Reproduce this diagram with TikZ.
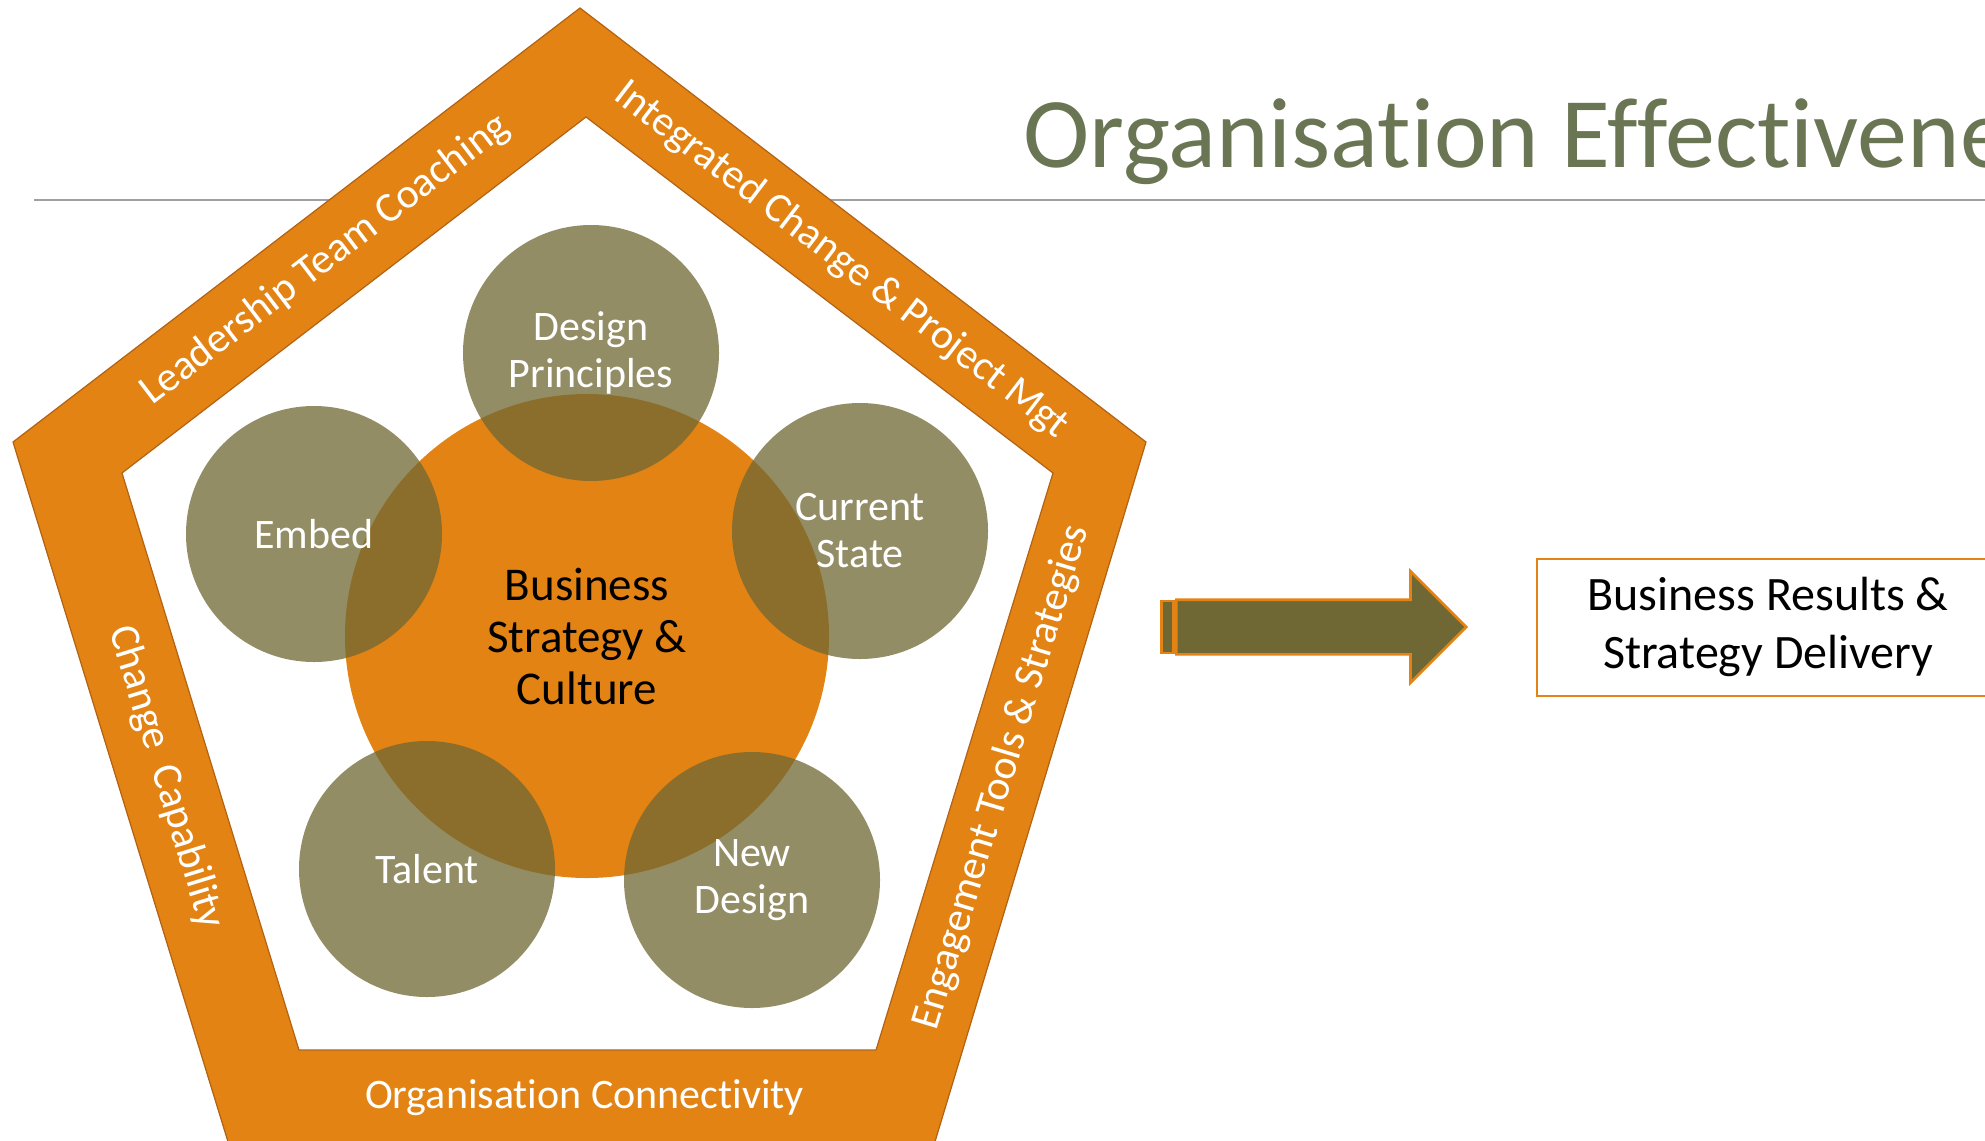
\documentclass[tikz,border=0pt]{standalone}
\usepackage{fontspec}
\setmainfont{Carlito}[Ligatures=NoCommon]
\usepackage{tikz}
\usetikzlibrary{shapes.arrows, positioning, calc}
\definecolor{rimOrange}{RGB}{226,131,19}
\definecolor{rimEdge}{RGB}{178,98,18}
\definecolor{petalOlive}{RGB}{111,104,52}
\definecolor{titleGreen}{RGB}{106,117,83}
\definecolor{ruleGray}{RGB}{160,160,160}

\begin{document}
\begin{tikzpicture}[
    x=0.5pt, y=-0.5pt,
    frame/.style={fill=rimOrange, draw=rimEdge, line width=0.6pt},
    hole/.style={fill=white, draw=rimEdge, line width=0.6pt},
    rim/.style={text=white, font=\fontsize{21}{25}\selectfont},
    core/.style={circle, fill=rimOrange, minimum size=242pt, inner sep=0pt, align=center, font=\fontsize{23.5}{26}\selectfont},
    petal/.style={circle, fill=petalOlive, fill opacity=0.75, text opacity=1, text=white, minimum size=128pt, inner sep=0pt, align=center, font=\fontsize{21}{23.5}\selectfont},
    arrowbody/.style={single arrow, fill=petalOlive, draw=rimOrange, line width=1.3pt, minimum height=145pt, inner xsep=0pt, inner ysep=13pt, single arrow head extend=14.25pt},
    stripe/.style={rectangle, fill=petalOlive, draw=rimOrange, line width=1.3pt, minimum width=6pt, minimum height=26pt, inner sep=0pt},
    resultbox/.style={rectangle, draw=rimOrange, line width=1pt, minimum width=231pt, minimum height=68.5pt, align=center, font=\fontsize{24}{29}\selectfont},
    heading/.style={text=titleGreen, font=\fontsize{50}{60}\selectfont, inner sep=0pt}
]
    \useasboundingbox (0,0) rectangle (1985,1140);

    % Rule under the heading
    \coordinate (ruleL) at (34,200);
    \coordinate (ruleR) at (1985,200);
    \draw[ruleGray, line width=1pt] (ruleL) -- (ruleR);

    % Pentagon frame
    \coordinate (o1) at (580,8);
    \coordinate (o2) at (1146,442);
    \coordinate (o3) at (934,1145);
    \coordinate (o4) at (229,1145);
    \coordinate (o5) at (13,442);
    \coordinate (i1) at (586,117);
    \coordinate (i2) at (1053,473);
    \coordinate (i3) at (876,1050);
    \coordinate (i4) at (299,1050);
    \coordinate (i5) at (122,473);
    \filldraw[frame] (o1) -- (o2) -- (o3) -- (o4) -- (o5) -- cycle;
    \filldraw[hole] (i1) -- (i2) -- (i3) -- (i4) -- (i5) -- cycle;

    % Core and petals
    \node[core] (core) at (587,636) {Business\\Strategy \&\\Culture};
    \node[petal] (design) at (591,353) {Design\\Principles};
    \node[petal] (current) at (860,531) {Current\\State};
    \node[petal] (newdesign) at (752,880) {New\\Design};
    \node[petal] (talent) at (427,869) {Talent};
    \node[petal] (embed) at (314,534) {Embed};

    % Frame labels
    \node[rim, rotate=37.4] (lead) at ($0.25*(o5)+0.25*(o1)+0.25*(i5)+0.25*(i1)$) {Leadership Team Coaching};
    \node[rim, rotate=-37.4] (integ) at ($0.25*(o1)+0.25*(o2)+0.25*(i1)+0.25*(i2)$) {Integrated Change \& Project Mgt};
    \node[rim, rotate=73.2] (engage) at ($0.25*(o2)+0.25*(o3)+0.25*(i2)+0.25*(i3)$) {Engagement Tools \& Strategies};
    \node[rim] (connect) at ($0.25*(o3)+0.25*(o4)+0.25*(i3)+0.25*(i4)$) {Organisation Connectivity};
    \node[rim, rotate=-72.9] (capab) at ($0.25*(o4)+0.25*(o5)+0.25*(i4)+0.25*(i5)$) {Change\ \ Capability};

    % Arrow to results
    \node[arrowbody, anchor=tail] (arrow) at (1175,627) {};
    \node[stripe, left=0pt of arrow.tail] (tailstripe) {};
    \node[resultbox, right=34pt of arrow.tip] (results) {Business Results \&\\Strategy Delivery};

    % Heading
    \node[heading, anchor=base west] (title) at (1023,167) {Organisation Effectiveness};
\end{tikzpicture}
\end{document}
